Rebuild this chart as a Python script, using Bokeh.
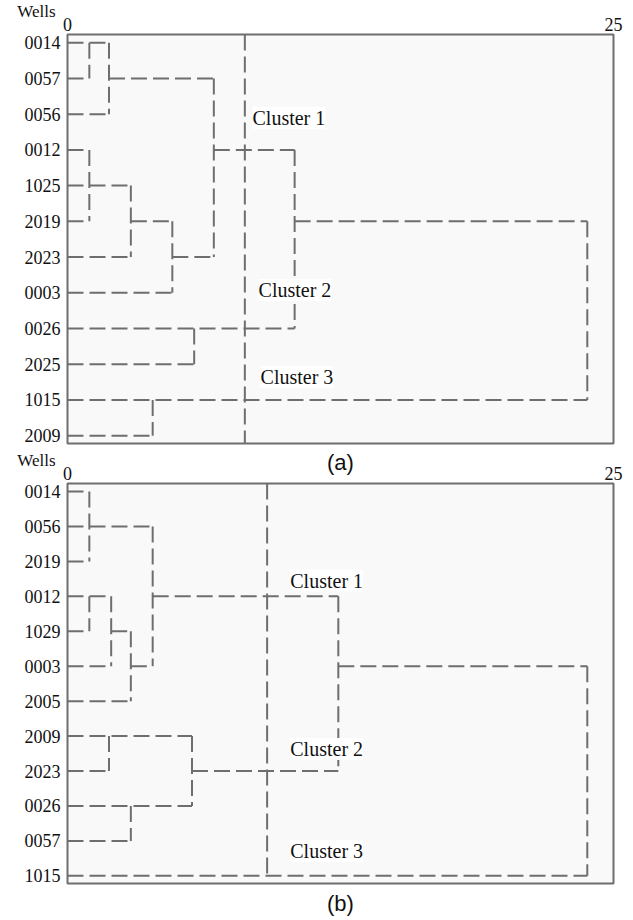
from bokeh.plotting import figure
from bokeh.layouts import column
from bokeh.models import FixedTicker, Range1d, LabelSet, ColumnDataSource, LinearAxis
from bokeh.core.properties import value
from bokeh.embed import file_html
from bokeh.resources import INLINE

# ---------------- data ----------------
distance_ticks = [0, 25]
distance_labels = {0: "0", 25: "25"}

# panel (a)
wells_a = ["0014", "0057", "0056", "0012", "1025", "2019",
           "2023", "0003", "0026", "2025", "1015", "2009"]
# horizontal links: row, start distance, end distance
ha_row = [0, 1, 1, 2, 3, 3, 4, 5, 5, 5, 6, 6, 7, 8, 9, 10, 11]
ha_x0 = [0, 0, 1.9, 0, 0, 6.7, 0, 0, 2.9, 10.4, 0, 4.8, 0, 0, 0, 0, 0]
ha_x1 = [1.9, 1.0, 6.7, 1.9, 1.0, 10.4, 2.9, 1.0, 4.8, 23.8, 2.9, 6.7, 4.8, 10.4, 5.8, 23.8, 3.9]
# vertical links: distance, from row, to row
va_x = [1.0, 1.9, 1.0, 2.9, 4.8, 6.7, 10.4, 23.8, 5.8, 3.9]
va_r0 = [0, 0, 3, 4, 5, 1, 3, 5, 8, 10]
va_r1 = [1, 2, 5, 6, 7, 6, 8, 10, 9, 11]
cut_a = 8.12
clusters_a = ["Cluster 1", "Cluster 2", "Cluster 3"]
cl_a_x = [8.47, 8.75, 8.84]
cl_a_y = [2.1, 6.92, 9.36]

# panel (b)
wells_b = ["0014", "0056", "2019", "0012", "1029", "0003",
           "2005", "2009", "2023", "0026", "0057", "1015"]
hb_row = [0, 1, 2, 3, 3, 4, 4, 5, 5, 5, 6, 7, 8, 8, 9, 10, 11]
hb_x0 = [0, 0, 0, 0, 3.9, 0, 2.0, 0, 2.9, 12.4, 0, 0, 0, 5.7, 0, 0, 0]
hb_x1 = [1.0, 3.9, 1.0, 2.0, 12.4, 1.0, 2.9, 2.0, 3.9, 23.8, 2.9, 5.7, 1.9, 12.4, 5.7, 2.9, 23.8]
vb_x = [1.0, 1.0, 2.0, 2.9, 3.9, 12.4, 23.8, 1.9, 5.7, 2.9]
vb_r0 = [0, 3, 3, 4, 1, 3, 5, 7, 7, 9]
vb_r1 = [2, 4, 5, 6, 5, 8, 11, 8, 9, 10]
cut_b = 9.14
clusters_b = ["Cluster 1", "Cluster 2", "Cluster 3"]
cl_b_x = [10.2, 10.2, 10.2]
cl_b_y = [2.55, 7.37, 10.3]

# ---------------- style ----------------
LINE = "#6e6e6e"
SERIF = "Liberation Serif"
SANS = "Liberation Sans"
TXT = "#111111"
Y_TOP, Y_BOT = -0.23, 11.22
DASH = "16 6"


def make_panel(wells, hr, hx0, hx1, vx, vr0, vr1, cut, cut_end,
               clusters, clx, cly, height, btop, bbot):
    p = figure(width=633, height=height,
               x_range=Range1d(0, 25), y_range=Range1d(Y_BOT, Y_TOP),
               x_axis_location="above", y_axis_location="left",
               output_backend="svg", toolbar_location=None,
               min_border_left=67, min_border_right=20,
               min_border_top=btop, min_border_bottom=bbot)
    p.background_fill_color = "#f9f9f9"
    p.border_fill_color = "white"
    p.outline_line_color = LINE
    p.outline_line_width = 2
    p.xgrid.visible = False
    p.ygrid.visible = False

    # top distance axis
    xa = p.xaxis[0]
    xa.ticker = FixedTicker(ticks=distance_ticks)
    xa.major_label_overrides = distance_labels
    xa.axis_line_color = None
    xa.major_tick_line_color = None
    xa.minor_tick_line_color = None
    xa.major_tick_out = 0
    xa.major_label_standoff = 4
    xa.major_label_text_font = SERIF
    xa.major_label_text_font_size = "18px"
    xa.major_label_text_color = TXT

    # well axis
    ya = p.yaxis[0]
    ya.ticker = FixedTicker(ticks=list(range(len(wells))))
    ya.major_label_overrides = {i: w for i, w in enumerate(wells)}
    ya.axis_line_color = None
    ya.major_tick_line_color = None
    ya.minor_tick_line_color = None
    ya.major_tick_out = 0
    ya.major_label_standoff = 7
    ya.major_label_text_font = SERIF
    ya.major_label_text_font_size = "18px"
    ya.major_label_text_color = TXT
    # title of the well column, lifted above the first row with blank lines
    ya.axis_label = "Wells\n \n "
    ya.axis_label_orientation = "horizontal"
    ya.axis_label_align = "start"
    ya.axis_label_standoff_mode = "axis"
    ya.axis_label_standoff = 12
    ya.axis_label_text_align = "right"
    ya.axis_label_text_baseline = "middle"
    ya.axis_label_text_font = SERIF
    ya.axis_label_text_font_style = "normal"
    ya.axis_label_text_font_size = "17px"
    ya.axis_label_text_color = TXT

    hs = ColumnDataSource(dict(y=hr, x0=hx0, x1=hx1))
    p.segment(x0="x0", y0="y", x1="x1", y1="y", source=hs,
              line_color=LINE, line_width=2, line_dash=DASH)
    vs = ColumnDataSource(dict(x=vx, y0=vr0, y1=vr1))
    p.segment(x0="x", y0="y0", x1="x", y1="y1", source=vs,
              line_color=LINE, line_width=2, line_dash=DASH)
    # cluster cut line
    p.segment(x0=[cut], y0=[Y_TOP], x1=[cut], y1=[cut_end],
              line_color=LINE, line_width=2, line_dash=DASH)

    cs = ColumnDataSource(dict(x=clx, y=cly, t=clusters))
    p.add_layout(LabelSet(x="x", y="y", text="t", source=cs,
                          text_font=value(SERIF), text_font_size="20px",
                          text_color=TXT, text_align="left",
                          text_baseline="middle",
                          background_fill_color="white"))
    return p


def caption(ax, text, standoff):
    ax.axis_label = text
    ax.axis_label_standoff_mode = "axis"
    ax.axis_label_standoff = standoff
    ax.axis_label_text_font = SANS
    ax.axis_label_text_font_style = "normal"
    ax.axis_label_text_font_size = "22px"
    ax.axis_label_text_color = TXT


pa = make_panel(wells_a, ha_row, ha_x0, ha_x1, va_x, va_r0, va_r1,
                cut_a, Y_BOT, clusters_a, cl_a_x, cl_a_y,
                height=446, btop=34, bbot=3)
pb = make_panel(wells_b, hb_row, hb_x0, hb_x1, vb_x, vb_r0, vb_r1,
                cut_b, 11, clusters_b, cl_b_x, cl_b_y,
                height=472, btop=34, bbot=30)

# caption of panel (a) sits just above panel (b)'s distance axis
caption(pb.xaxis[0], "(a)", 9)

# caption of panel (b)
bottom = LinearAxis(ticker=FixedTicker(ticks=[]), axis_line_color=None,
                    major_tick_line_color=None, minor_tick_line_color=None,
                    major_label_text_font_size="0px")
caption(bottom, "(b)", 7)
pb.add_layout(bottom, "below")

layout = column(pa, pb)
open("out.html", "w").write(file_html(layout, INLINE))
